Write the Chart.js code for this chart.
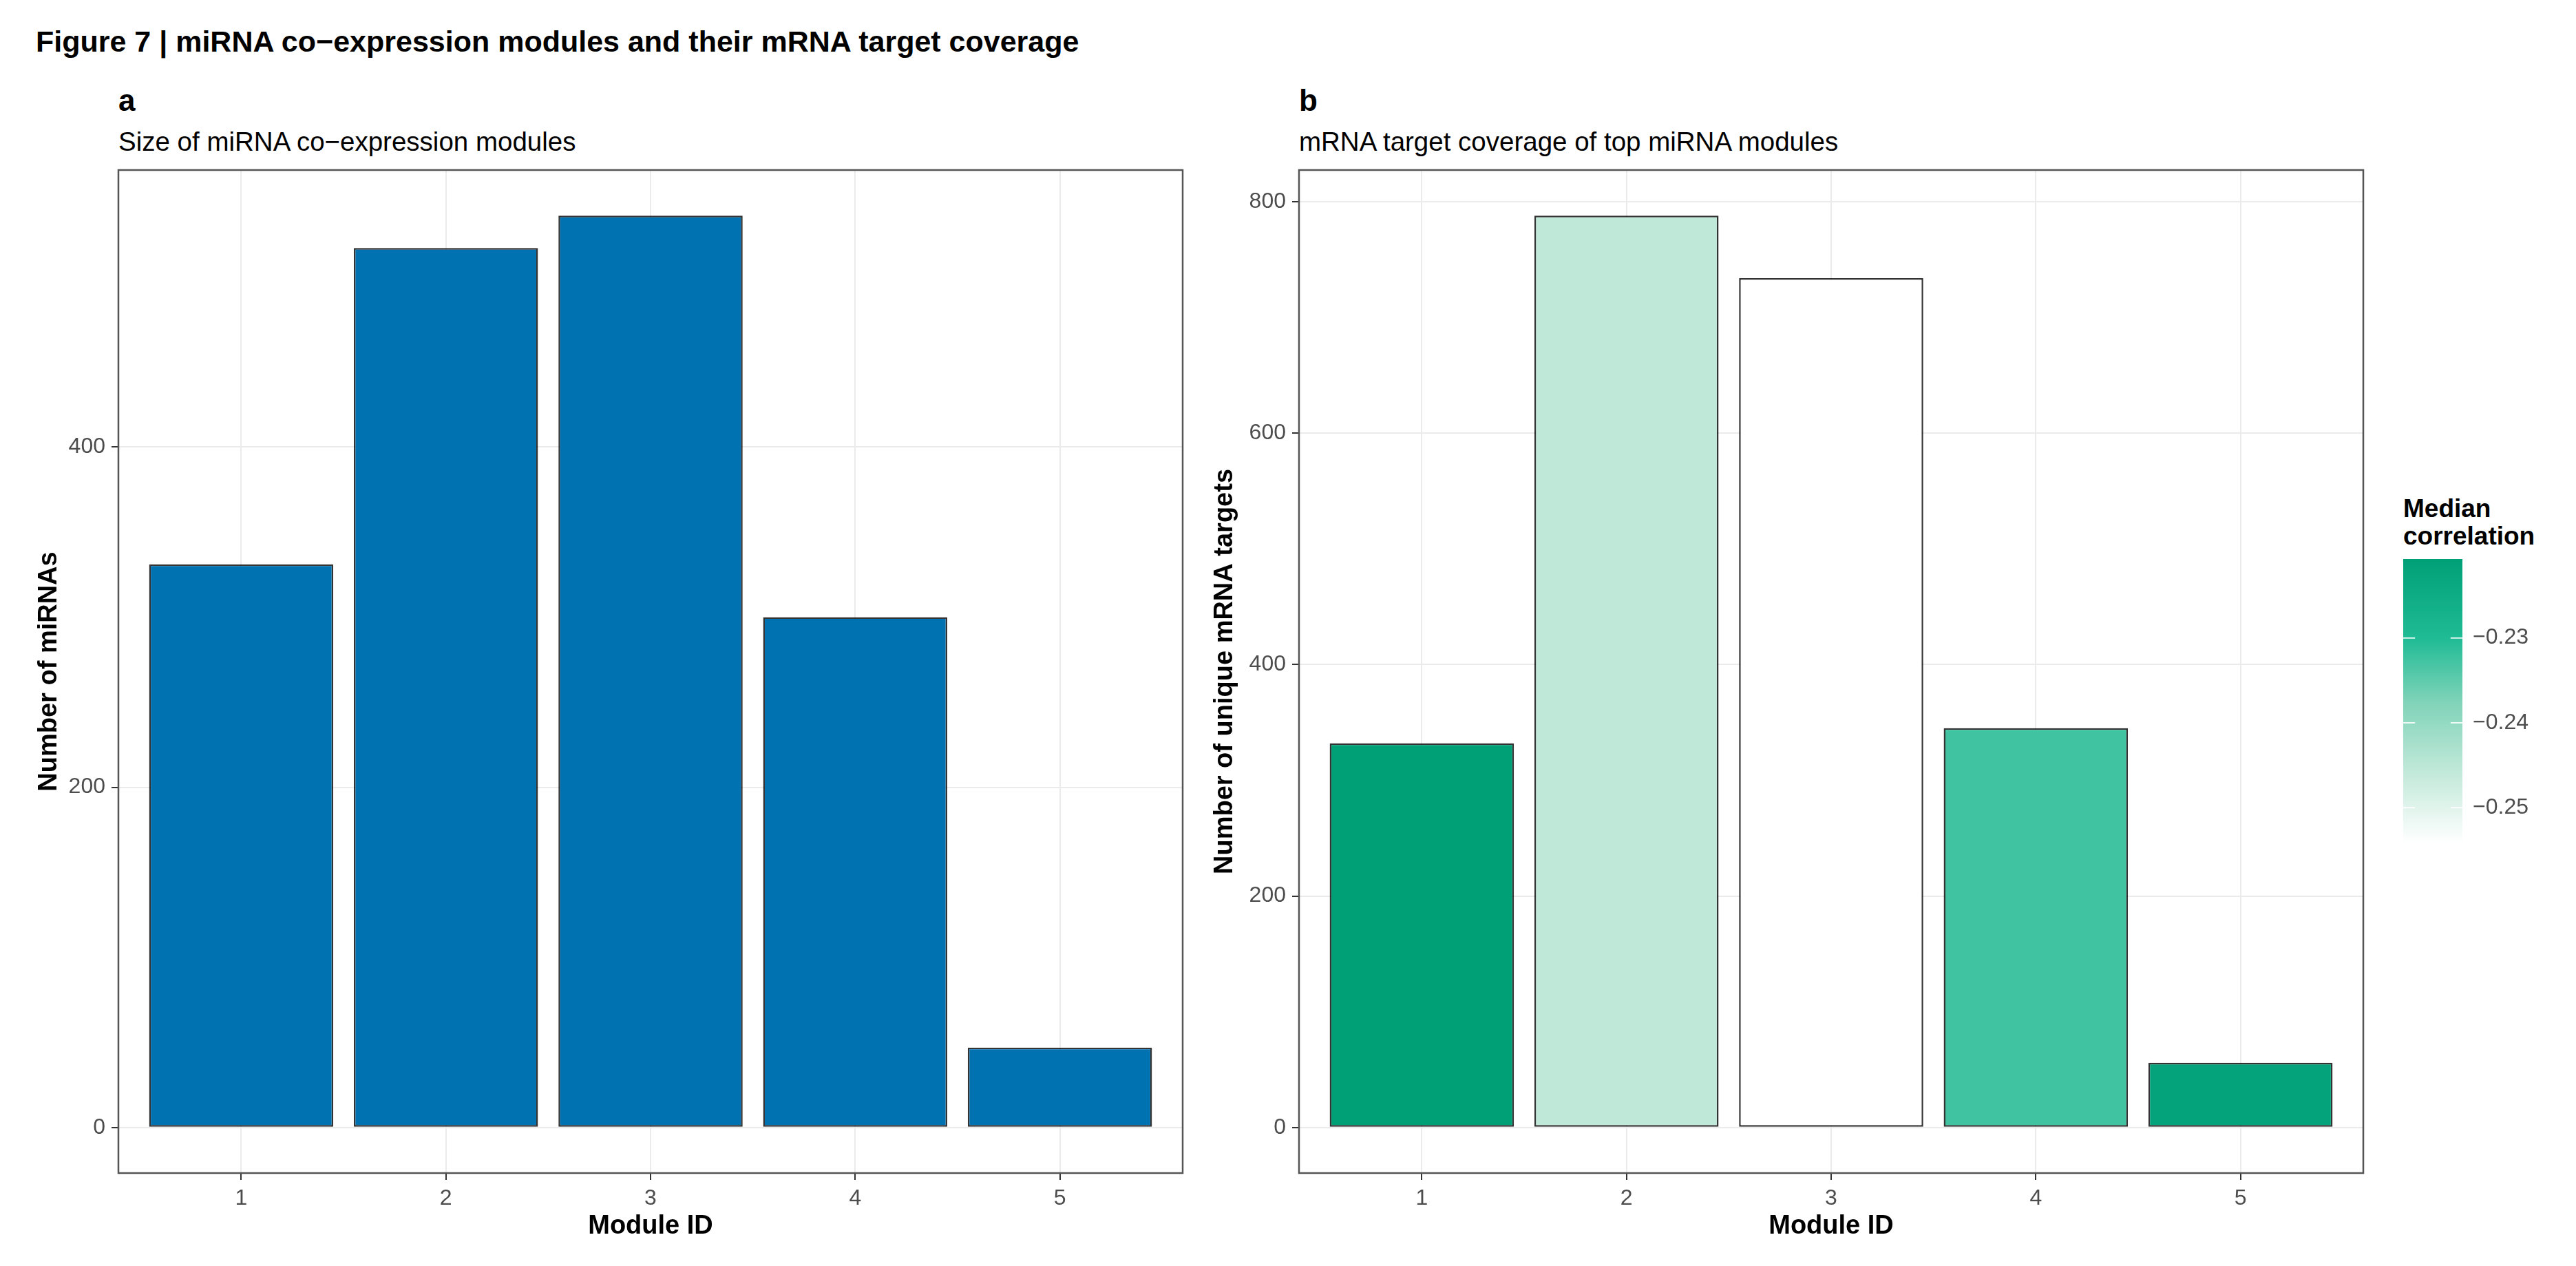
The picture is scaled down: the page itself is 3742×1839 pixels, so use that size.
<!DOCTYPE html>
<html>
<head>
<meta charset="utf-8">
<title>Figure 7</title>
<script src="https://cdn.jsdelivr.net/npm/chart.js@4.4.1/dist/chart.umd.min.js"></script>
<style>
  html, body { margin: 0; padding: 0; background: #fff; }
  body { width: 3742px; height: 1839px; position: relative; overflow: hidden;
         font-family: "Liberation Sans", Arial, sans-serif; color: #000; }
  .txt { position: absolute; white-space: nowrap; line-height: 1; }
  .bold { font-weight: bold; }
  canvas { position: absolute; }
</style>
</head>
<body>
<div class="txt bold" style="left:52px;top:39px;font-size:43px;">Figure 7 | miRNA co−expression modules and their mRNA target coverage</div>

<div class="txt bold" style="left:172px;top:124px;font-size:44px;">a</div>
<div class="txt" style="left:172px;top:187px;font-size:38.5px;">Size of miRNA co−expression modules</div>

<div class="txt bold" style="left:1887px;top:124px;font-size:44px;">b</div>
<div class="txt" style="left:1887px;top:187px;font-size:38.5px;">mRNA target coverage of top miRNA modules</div>

<div class="txt bold" style="left:3491px;top:719px;font-size:37px;line-height:40px;">Median<br>correlation</div>

<canvas id="chart-size" width="1740" height="1639" style="left:0;top:200px;width:1740px;height:1639px;"></canvas>
<canvas id="chart-targets" width="1720" height="1639" style="left:1740px;top:200px;width:1720px;height:1639px;"></canvas>
<canvas id="chart-bar" width="251" height="413" style="left:3491px;top:812px;width:251px;height:413px;"></canvas>

<script>
// -------- data --------
var moduleIds = [1, 2, 3, 4, 5];
var moduleSizes = [331, 517, 536, 300, 47];          // panel a: number of miRNAs
var targetCounts = [332, 788, 734, 345, 56];         // panel b: unique mRNA targets
var medianCorr = [-0.2207, -0.2455, -0.2542, -0.2326, -0.2218];
var yTicksSize = [0, 200, 400];
var yTicksTargets = [0, 200, 400, 600, 800];
var corrTicks = [-0.25, -0.24, -0.23];

(function () {
  var FONT = '"Liberation Sans", Arial, sans-serif';
  Chart.defaults.font.family = FONT;
  Chart.defaults.color = "#4d4d4d";

  // -------- colour scale: white -> green (stops picked from the printed colour bar) --------
  var rampAt = [0, 0.25, 0.5, 0.72, 1];
  var rampHex = ["#ffffff", "#c2e9da", "#7fd3b8", "#1fbb95", "#00a077"];
  function hexRgb(h) { return [1, 3, 5].map(function (i) { return parseInt(h.slice(i, i + 2), 16); }); }
  var rampRgb = rampHex.map(hexRgb);
  var cMin = Math.min.apply(null, medianCorr), cMax = Math.max.apply(null, medianCorr);
  function corrColour(v) {
    var t = Math.max(0, Math.min(1, (v - cMin) / (cMax - cMin)));
    var k = 0;
    while (k < rampAt.length - 2 && t > rampAt[k + 1]) k++;
    var f = (t - rampAt[k]) / (rampAt[k + 1] - rampAt[k]);
    var c = [0, 1, 2].map(function (i) { return Math.round(rampRgb[k][i] + (rampRgb[k + 1][i] - rampRgb[k][i]) * f); });
    return "rgb(" + c.join(",") + ")";
  }

  // -------- shared bits --------
  var frame = {
    id: "frame",
    afterDraw: function (chart) {
      var a = chart.chartArea, ctx = chart.ctx;
      ctx.save();
      ctx.strokeStyle = "#555";
      ctx.lineWidth = 2.5;
      ctx.strokeRect(a.left, a.top, a.right - a.left, a.bottom - a.top);
      ctx.restore();
    }
  };

  function barChart(id, values, fills, yTicks, yTitle, yWidth, titlePad, padRight) {
    var top = Math.max.apply(null, values);
    return new Chart(document.getElementById(id), {
      type: "bar",
      data: {
        datasets: [{
          data: moduleIds.map(function (m, i) { return { x: m, y: values[i] }; }),
          backgroundColor: fills,
          borderColor: "rgba(0,0,0,0.8)",
          borderWidth: 2.5,
          borderSkipped: false,
          barPercentage: 0.9,
          categoryPercentage: 1
        }]
      },
      options: {
        responsive: false,
        animation: false,
        layout: { padding: { left: 0, top: 47, right: padRight, bottom: 0 } },
        plugins: { legend: { display: false }, tooltip: { enabled: false } },
        scales: {
          x: {
            type: "linear",
            min: 0.4,
            max: 5.6,
            offset: false,
            afterBuildTicks: function (s) { s.ticks = moduleIds.map(function (v) { return { value: v }; }); },
            afterFit: function (s) { s.height = 135; s.paddingLeft = 0; s.paddingRight = 0; },
            grid: { offset: false, color: "#ebebeb", lineWidth: 2, tickColor: "#333", tickWidth: 2, tickLength: 10 },
            border: { display: false },
            ticks: { font: { size: 32 }, color: "#4d4d4d", padding: 8, maxRotation: 0 },
            title: { display: true, text: "Module ID", color: "#000",
                     font: { size: 38, weight: "bold" }, padding: { top: 0, bottom: 35 } }
          },
          y: {
            min: -0.05 * top,
            max: 1.05 * top,
            afterBuildTicks: function (s) { s.ticks = yTicks.map(function (v) { return { value: v }; }); },
            afterFit: function (s) { s.width = yWidth; s.paddingTop = 0; s.paddingBottom = 0; },
            grid: { color: "#ebebeb", lineWidth: 2, tickColor: "#333", tickWidth: 2, tickLength: 10 },
            border: { display: false },
            ticks: { font: { size: 32 }, color: "#4d4d4d", padding: 9 },
            title: { display: true, text: yTitle, color: "#000",
                     font: { size: 38, weight: "bold" }, padding: { top: titlePad, bottom: 0 } }
          }
        }
      },
      plugins: [frame]
    });
  }

  // -------- panel a + b --------
  barChart("chart-size", moduleSizes, "#0072b2", yTicksSize, "Number of miRNAs", 172, 49, 22);
  barChart("chart-targets", targetCounts, medianCorr.map(corrColour), yTicksTargets,
           "Number of unique mRNA targets", 147, 17, 27);

  // -------- colour bar legend --------
  var barTicks = {
    id: "barTicks",
    afterDatasetsDraw: function (chart) {
      var a = chart.chartArea, ctx = chart.ctx, y = chart.scales.y;
      var len = (a.right - a.left) / 5;
      ctx.save();
      ctx.strokeStyle = "rgba(255,255,255,0.85)";
      ctx.lineWidth = 2;
      corrTicks.forEach(function (v) {
        var py = y.getPixelForValue(v);
        ctx.beginPath();
        ctx.moveTo(a.left, py); ctx.lineTo(a.left + len, py);
        ctx.moveTo(a.right - len, py); ctx.lineTo(a.right, py);
        ctx.stroke();
      });
      ctx.restore();
    }
  };

  new Chart(document.getElementById("chart-bar"), {
    type: "bar",
    data: {
      labels: ["corr"],
      datasets: [{
        data: [[cMin, cMax]],
        barPercentage: 1,
        categoryPercentage: 1,
        borderWidth: 0,
        backgroundColor: function (c) {
          var chart = c.chart, a = chart.chartArea, y = chart.scales.y;
          if (!a || !y) return "#ffffff";
          var g = chart.ctx.createLinearGradient(0, y.getPixelForValue(cMin), 0, y.getPixelForValue(cMax));
          for (var i = 0; i <= 40; i++) {
            var t = i / 40;
            g.addColorStop(t, corrColour(cMin + t * (cMax - cMin)));
          }
          return g;
        }
      }]
    },
    options: {
      responsive: false,
      animation: false,
      layout: { padding: 0 },
      plugins: { legend: { display: false }, tooltip: { enabled: false } },
      scales: {
        x: { type: "category", display: false, offset: true },
        y: {
          position: "right",
          min: cMin,
          max: cMax,
          afterBuildTicks: function (s) { s.ticks = corrTicks.map(function (v) { return { value: v }; }); },
          afterFit: function (s) { s.width = 165; s.paddingTop = 0; s.paddingBottom = 0; },
          grid: { display: false, drawTicks: false },
          border: { display: false },
          ticks: {
            font: { size: 32 }, color: "#4d4d4d", padding: 15,
            callback: function (v) { return v.toFixed(2).replace("-", "\u2212"); }
          }
        }
      }
    },
    plugins: [barTicks]
  });
})();
</script>
</body>
</html>
